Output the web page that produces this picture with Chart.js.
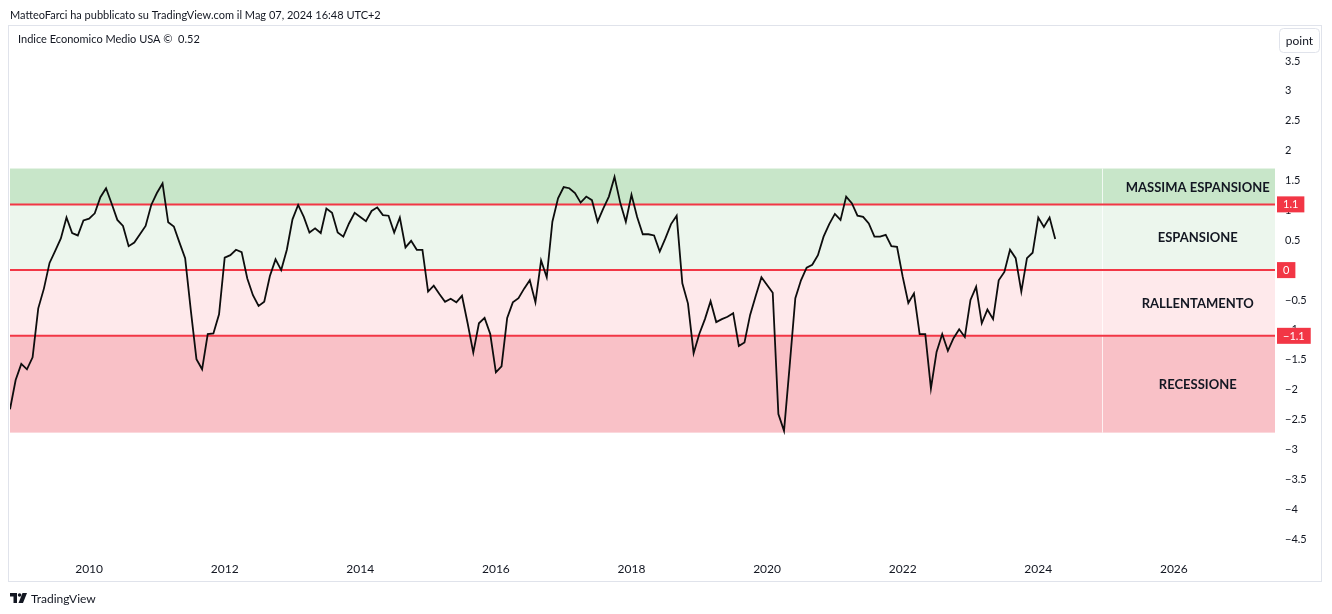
<!DOCTYPE html>
<html>
<head>
<meta charset="utf-8">
<script src="https://cdn.jsdelivr.net/npm/chart.js@4.4.1/dist/chart.umd.min.js"></script>
<style>
  html, body { margin: 0; padding: 0; background: #ffffff; }
  #wrap { position: relative; width: 1332px; height: 614px; }
</style>
</head>
<body>
<div id="wrap"><canvas id="myChart" width="1332" height="614"></canvas></div>
<script>
// monthly series, first value = Nov 2008
const firstYear = 2008;
const firstMonth = 11;
const values = [
    -2.33, -1.84,                                                                   // 2008
    -1.57, -1.66, -1.46, -0.64, -0.31, 0.12, 0.32, 0.53, 0.88, 0.62, 0.58, 0.83,    // 2009
    0.86, 0.95, 1.22, 1.37, 1.11, 0.84, 0.74, 0.40, 0.46, 0.60, 0.74, 1.09,         // 2010
    1.29, 1.45, 0.80, 0.73, 0.46, 0.20, -0.67, -1.49, -1.66, -1.07, -1.06, -0.74,   // 2011
    0.21, 0.25, 0.34, 0.30, -0.14, -0.42, -0.60, -0.53, -0.10, 0.18, 0.00, 0.34,    // 2012
    0.85, 1.09, 0.89, 0.63, 0.70, 0.62, 1.03, 0.96, 0.63, 0.56, 0.78, 0.96,         // 2013
    0.89, 0.82, 0.99, 1.05, 0.92, 0.91, 0.63, 0.88, 0.38, 0.49, 0.34, 0.34,         // 2014
    -0.36, -0.26, -0.40, -0.53, -0.48, -0.54, -0.43, -0.89, -1.38, -0.89, -0.80, -1.07, // 2015
    -1.71, -1.61, -0.80, -0.54, -0.47, -0.31, -0.17, -0.54, 0.16, -0.12, 0.81, 1.20, // 2016
    1.39, 1.37, 1.29, 1.13, 1.23, 1.17, 0.81, 1.03, 1.23, 1.56, 1.13, 0.81,         // 2017
    1.26, 0.89, 0.60, 0.60, 0.58, 0.31, 0.53, 0.77, 0.91, -0.22, -0.56, -1.39,      // 2018
    -1.07, -0.82, -0.52, -0.87, -0.82, -0.78, -0.72, -1.27, -1.21, -0.75, -0.43, -0.12, // 2019
    -0.25, -0.38, -2.41, -2.69, -1.60, -0.47, -0.17, 0.04, 0.09, 0.25, 0.56, 0.77,  // 2020
    0.94, 0.84, 1.23, 1.12, 0.91, 0.89, 0.78, 0.56, 0.56, 0.59, 0.40, 0.39,         // 2021
    -0.11, -0.55, -0.39, -1.07, -1.07, -1.98, -1.37, -1.07, -1.35, -1.14, -0.99, -1.12, // 2022
    -0.50, -0.28, -0.89, -0.66, -0.82, -0.17, -0.03, 0.34, 0.20, -0.36, 0.20, 0.29, // 2023
    0.88, 0.72, 0.88, 0.52                                                          // 2024
];

const yearTicks = [2010, 2012, 2014, 2016, 2018, 2020, 2022, 2024, 2026];
const priceTicks = [3.5, 3, 2.5, 2, 1.5, 1, 0.5, 0, -0.5, -1, -1.5, -2, -2.5, -3, -3.5, -4, -4.5];

const zoneNames = ['MASSIMA ESPANSIONE', 'ESPANSIONE', 'RALLENTAMENTO', 'RECESSIONE'];
const zoneEdges = [1.7, 1.1, 0, -1.1, -2.72];
const zoneColors = ['#c8e6c9', '#ecf6ed', '#fee9eb', '#f9c1c7'];
const levels = [1.1, 0, -1.1];

const toX = (year, month) => year * 12 + (month - 1);
const xStart = toX(firstYear, firstMonth);

const points = values.map((v, i) => ({ x: xStart + i, y: v }));

const FONT = 'Lato, "Open Sans", sans-serif';
const TEXT = '#131722';
const RED = '#f23645';

function fmtPrice(v) {
    const s = Math.abs(v).toString();
    return v < 0 ? '\u2212' + s : s;
}

const zonesPlugin = {
    id: 'zones',
    beforeDatasetsDraw(chart) {
        const { ctx, chartArea, scales } = chart;
        const y = scales.y, x = scales.x;
        ctx.save();
        for (let i = 0; i < zoneNames.length; i++) {
            const top = y.getPixelForValue(zoneEdges[i]);
            const bot = y.getPixelForValue(zoneEdges[i + 1]);
            ctx.fillStyle = zoneColors[i];
            ctx.fillRect(chartArea.left, top, chartArea.right - chartArea.left, bot - top);
        }
        // divider of the label column
        const divX = Math.round(x.getPixelForValue(toX(2024, 12) + 0.3)) + 0.5;
        ctx.strokeStyle = 'rgba(255,255,255,0.75)';
        ctx.lineWidth = 1;
        ctx.beginPath();
        ctx.moveTo(divX, y.getPixelForValue(zoneEdges[0]));
        ctx.lineTo(divX, y.getPixelForValue(zoneEdges[zoneEdges.length - 1]));
        ctx.stroke();

        // level lines
        ctx.strokeStyle = RED;
        ctx.lineWidth = 2;
        levels.forEach(l => {
            const py = y.getPixelForValue(l);
            ctx.beginPath();
            ctx.moveTo(chartArea.left, py);
            ctx.lineTo(chartArea.right, py);
            ctx.stroke();
        });

        // zone names
        ctx.fillStyle = TEXT;
        ctx.font = 'bold 13px ' + FONT;
        ctx.textAlign = 'center';
        ctx.textBaseline = 'middle';
        const cx = (divX + chartArea.right) / 2 + 9;
        for (let i = 0; i < zoneNames.length; i++) {
            const mid = (zoneEdges[i] + zoneEdges[i + 1]) / 2;
            ctx.fillText(zoneNames[i], cx, y.getPixelForValue(mid) + 1);
        }
        ctx.restore();
    },
    afterDraw(chart) {
        const { ctx, chartArea, scales } = chart;
        const y = scales.y;
        ctx.save();
        // level tags on the price scale
        ctx.font = '11px ' + FONT;
        ctx.textBaseline = 'middle';
        ctx.textAlign = 'left';
        levels.forEach(l => {
            const py = y.getPixelForValue(l);
            const label = fmtPrice(l);
            const w = ctx.measureText(label).width + 12;
            ctx.fillStyle = RED;
            ctx.fillRect(chartArea.right + 2, py - 8, w, 16);
            ctx.fillStyle = '#ffffff';
            ctx.fillText(label, chartArea.right + 8, py + 0.5);
        });

        // frame
        ctx.strokeStyle = '#e0e3eb';
        ctx.lineWidth = 1;
        ctx.strokeRect(8.5, 25.5, 1313, 556);

        // header and legend
        ctx.fillStyle = TEXT;
        ctx.font = '11px ' + FONT;
        ctx.fillText('MatteoFarci ha pubblicato su TradingView.com il Mag 07, 2024 16:48 UTC+2', 10, 15);
        ctx.fillText('Indice Economico Medio USA \u00a9  ' + values[values.length - 1].toFixed(2), 18, 39);

        // "point" button
        ctx.beginPath();
        ctx.roundRect(1279.5, 28.5, 40, 24, 4);
        ctx.fillStyle = '#ffffff';
        ctx.fill();
        ctx.strokeStyle = '#e0e3eb';
        ctx.stroke();
        ctx.fillStyle = TEXT;
        ctx.textAlign = 'center';
        ctx.font = '12px ' + FONT;
        ctx.fillText('point', 1299.5, 41);

        // footer logo
        ctx.fillStyle = '#131722';
        ctx.fillRect(10, 593, 7, 3.5);
        ctx.fillRect(13.5, 593, 3.5, 10);
        ctx.beginPath();
        ctx.arc(19.6, 595, 1.8, 0, Math.PI * 2);
        ctx.fill();
        ctx.beginPath();
        ctx.moveTo(22.5, 593);
        ctx.lineTo(27, 593);
        ctx.lineTo(23, 603);
        ctx.lineTo(18.5, 603);
        ctx.closePath();
        ctx.fill();
        ctx.textAlign = 'left';
        ctx.font = '12px ' + FONT;
        ctx.fillText('TradingView', 31, 599);
        ctx.restore();
    }
};

new Chart('myChart', {
    type: 'line',
    data: {
        datasets: [{
            data: points,
            borderColor: '#0d0d0d',
            borderWidth: 1.8,
            pointRadius: 0,
            tension: 0,
            fill: false
        }]
    },
    options: {
        responsive: false,
        animation: false,
        devicePixelRatio: 1,
        events: [],
        layout: { padding: { left: 10, right: 11, top: 26, bottom: 33 } },
        plugins: { legend: { display: false }, tooltip: { enabled: false } },
        scales: {
            x: {
                type: 'linear',
                min: xStart,
                max: xStart + 223.9,
                grid: { display: false, drawTicks: false },
                border: { display: false },
                afterFit: s => { s.height = 26; },
                afterBuildTicks: s => { s.ticks = yearTicks.map(yr => ({ value: toX(yr, 1) })); },
                ticks: {
                    padding: 7,
                    maxRotation: 0,
                    autoSkip: false,
                    color: TEXT,
                    font: { family: FONT, size: 12 },
                    callback: v => Math.round(v / 12)
                }
            },
            y: {
                position: 'right',
                min: -4.7682,
                max: 4.0854,
                grid: { display: false, drawTicks: false },
                border: { display: false },
                afterFit: s => { s.width = 46; },
                afterBuildTicks: s => { s.ticks = priceTicks.map(v => ({ value: v })); },
                ticks: {
                    padding: 10,
                    autoSkip: false,
                    color: TEXT,
                    font: { family: FONT, size: 11 },
                    callback: v => fmtPrice(v)
                }
            }
        }
    },
    plugins: [zonesPlugin]
});
</script>
</body>
</html>
